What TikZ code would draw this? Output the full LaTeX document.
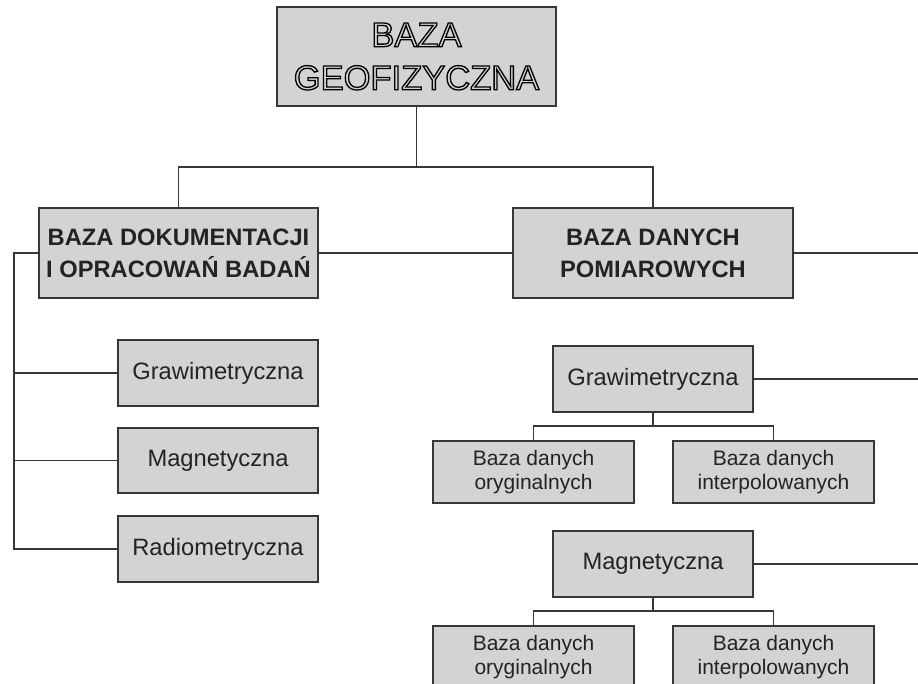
\documentclass[tikz,border=0pt]{standalone}
\usepackage{fontspec}
\setmainfont{Liberation Sans}
\usetikzlibrary{positioning}

\definecolor{boxgray}{RGB}{210,211,213}
\definecolor{edgegray}{RGB}{55,55,55}
\definecolor{inkgray}{RGB}{35,35,35}

% hollow (stroked) letters
\newcommand{\hollowtext}[1]{\special{pdf:literal direct 1 Tr 1.3 w}#1\special{pdf:literal direct 0 Tr}}

\tikzset{
	dbbox/.style={draw=edgegray, fill=boxgray, line width=1.3pt, text=inkgray, align=center, inner sep=0pt},
	mainbox/.style={dbbox, minimum width=279pt, minimum height=90pt, font=\fontsize{23.7}{32}\selectfont\bfseries},
	subbox/.style={dbbox, minimum width=200pt, minimum height=66pt, font=\fontsize{23.7}{28}\selectfont},
	leafbox/.style={dbbox, minimum width=201pt, minimum height=62pt, font=\fontsize{21}{24}\selectfont},
	link/.style={draw=edgegray, line width=1.2pt}
}

\begin{document}
\begin{tikzpicture}[x=1pt, y=-1pt]
	
	\path[use as bounding box, clip] (0,0) rectangle (918,684);
	
	% Root
	\node[dbbox, minimum width=279pt, minimum height=99pt, text=black, font=\fontsize{34.5}{43}\selectfont] (geo) at (416.5,56.5)
		{\hollowtext{BAZA}\\\hollowtext{GEOFIZYCZNA}};
	
	% Main branches
	\node[mainbox] (dok) at (178.5,253) {BAZA DOKUMENTACJI\\I OPRACOWAŃ BADAŃ};
	\node[mainbox, minimum width=280pt] (pom) at (653,253) {BAZA DANYCH\\POMIAROWYCH};
	
	% Documentation branch
	\node[subbox] (lgrav) at (218,373) {Grawimetryczna};
	\node[subbox, minimum height=65pt] (lmag) at (218,460.5) {Magnetyczna};
	\node[subbox] (lrad) at (218,549) {Radiometryczna};
	
	% Measurement branch
	\node[subbox] (rgrav) at (653,379) {Grawimetryczna};
	\node[leafbox] (rgorig) at (533.5,472) {Baza danych\\oryginalnych};
	\node[leafbox] (rgint) at (773.5,472) {Baza danych\\interpolowanych};
	
	\node[subbox] (rmag) at (653,564) {Magnetyczna};
	\node[leafbox] (rmorig) at (533.5,657) {Baza danych\\oryginalnych};
	\node[leafbox] (rmint) at (773.5,657) {Baza danych\\interpolowanych};
	
	% Junctions
	\coordinate (geobus) at (416.5,167);
	\coordinate (lspine) at (14,253);
	\coordinate (rgbus) at (653,426);
	\coordinate (rmbus) at (653,611);
	\coordinate (pomend) at (918,253);
	\coordinate (rgravend) at (918,379);
	\coordinate (rmagend) at (918,564);
	
	% Connectors
	\draw[link] (geo) -- (geobus);
	\draw[link] (dok.north) |- (geobus) -| (pom.north);
	\draw[link] (dok) -- (pom);
	\draw[link] (pom) -- (pomend);
	\draw[link] (dok.west) -- (lspine) |- (lrad.west);
	\draw[link] (lspine) |- (lgrav.west);
	\draw[link] (lspine) |- (lmag.west);
	\draw[link] (rgrav) -- (rgravend);
	\draw[link] (rgrav) -- (rgbus) -| (rgorig.north);
	\draw[link] (rgbus) -| (rgint.north);
	\draw[link] (rmag) -- (rmagend);
	\draw[link] (rmag) -- (rmbus) -| (rmorig.north);
	\draw[link] (rmbus) -| (rmint.north);
	
\end{tikzpicture}
\end{document}
